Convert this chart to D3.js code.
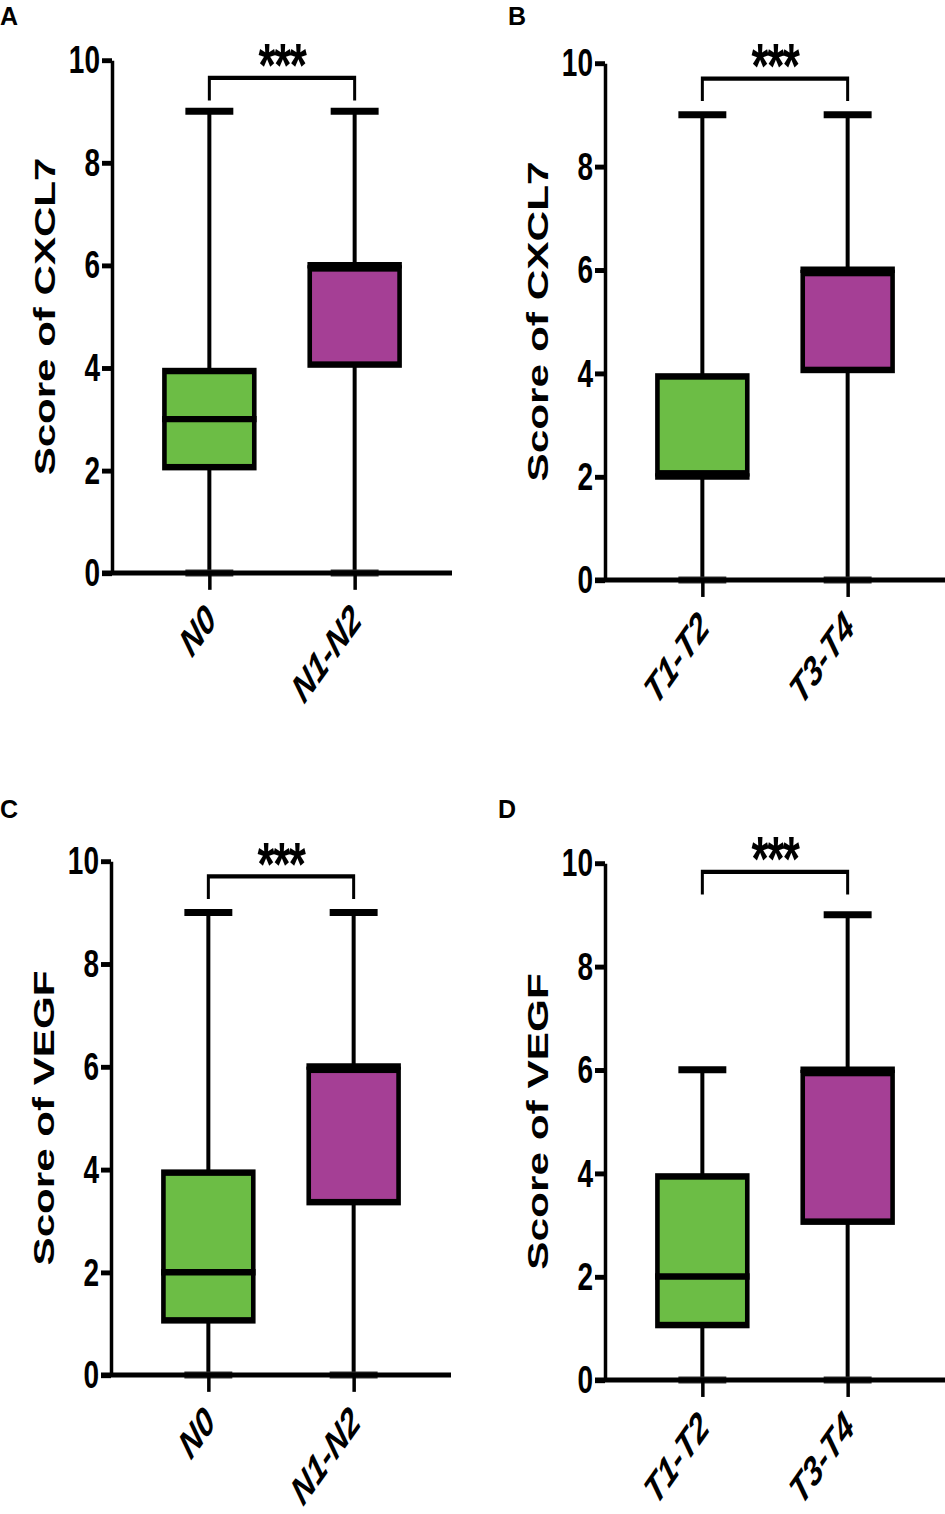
<!DOCTYPE html>
<html>
<head>
<meta charset="utf-8">
<script src="https://cdn.jsdelivr.net/npm/d3@7"></script>
<style>
  body { margin: 0; background: #fff; }
  text { font-family: "Liberation Sans", Arial, sans-serif; font-weight: bold; }
</style>
</head>
<body>
<script>
// panel titles / categories
var panelLetters = ['A', 'B', 'C', 'D'];
var yTitles = ['Score of CXCL7', 'Score of CXCL7', 'Score of VEGF', 'Score of VEGF'];
var groupsN = ['N0', 'N1-N2'];
var groupsT = ['T1-T2', 'T3-T4'];
var panelGroups = [groupsN, groupsT, groupsN, groupsT];
var yTicks = [0, 2, 4, 6, 8, 10];

// box stats: [min, q1, median, q3, max]
var statsA = [[0, 2, 3, 4, 9], [0, 4, 6, 6, 9]];
var statsB = [[0, 2, 2, 4, 9], [0, 4, 6, 6, 9]];
var statsC = [[0, 1, 2, 4, 9], [0, 3.3, 6, 6, 9]];
var statsD = [[0, 1, 2, 4, 6], [0, 3, 6, 6, 9]];
var panelStats = [statsA, statsB, statsC, statsD];

// significance marks and the level (in score units) of the bracket
var sigLabels = ['***', '***', '***', '***'];
var sigLevel = [9.65, 9.7, 9.7, 9.83];

var boxColors = ['#6cbd45', '#a53f95'];

// where each panel sits on the page (y axis x, top = 10, bottom = 0)
var layout = [
  {ox: 112, top: 60, bottom: 573, lx: 0, ly: 25},
  {ox: 605, top: 63, bottom: 580, lx: 508, ly: 25},
  {ox: 111, top: 861, bottom: 1375, lx: 0, ly: 818},
  {ox: 605, top: 863, bottom: 1380, lx: 498, ly: 818}
];

var H = 366; // unstretched plot height, the picture is stretched vertically
var W = 340;

var svg = d3.select('body').append('svg')
  .attr('width', 945)
  .attr('height', 1514);

function drawPanel(i) {
  var L = layout[i];
  var k = (L.bottom - L.top) / H;
  var stats = panelStats[i];
  var cats = panelGroups[i];

  svg.append('text')
    .attr('x', L.lx)
    .attr('y', L.ly)
    .attr('font-size', 25)
    .text(panelLetters[i]);

  var g = svg.append('g')
    .attr('transform', 'translate(' + L.ox + ',' + L.top + ') scale(1,' + k + ')');

  var y = d3.scaleLinear().domain([0, 10]).range([H, 0]);
  var x = d3.scalePoint().domain(cats).range([0, W]).padding(0.67);
  var boxW = x.step() * 0.65;
  var capW = x.step() * 0.33;
  var boxSw = 4.6;

  var boxes = g.selectAll('.box').data(stats).enter().append('g')
    .attr('class', 'box')
    .attr('transform', function (d, j) { return 'translate(' + x(cats[j]) + ',0)'; });

  // whisker
  boxes.append('line')
    .attr('x1', 0).attr('x2', 0)
    .attr('y1', function (d) { return y(d[0]); })
    .attr('y2', function (d) { return y(d[4]); })
    .attr('stroke', '#000')
    .attr('stroke-width', 4);
  // caps
  boxes.selectAll('.cap').data(function (d) { return [d[0], d[4]]; }).enter().append('line')
    .attr('class', 'cap')
    .attr('x1', -capW / 2).attr('x2', capW / 2)
    .attr('y1', function (v) { return y(v); })
    .attr('y2', function (v) { return y(v); })
    .attr('stroke', function (v) { return v === 0 ? '#333' : '#000'; })
    .attr('stroke-width', 5);
  // box, border drawn inside the quartiles
  boxes.append('rect')
    .attr('x', -boxW / 2 + boxSw / 2)
    .attr('width', boxW - boxSw)
    .attr('y', function (d) { return y(d[3]) + boxSw / 2; })
    .attr('height', function (d) { return y(d[1]) - y(d[3]) - boxSw; })
    .attr('fill', function (d, j) { return boxColors[j]; })
    .attr('stroke', '#000')
    .attr('stroke-width', boxSw);
  // median
  boxes.append('line')
    .attr('x1', -boxW / 2).attr('x2', boxW / 2)
    .attr('y1', function (d) { return y(d[2]); })
    .attr('y2', function (d) { return y(d[2]); })
    .attr('stroke', '#000')
    .attr('stroke-width', 4.6);

  // y axis
  var yAxis = g.append('g')
    .call(d3.axisLeft(y).tickValues(yTicks).tickFormat(d3.format('d')).tickSize(10).tickSizeOuter(0).tickPadding(2));
  yAxis.select('.domain').attr('stroke-width', 3.5);
  yAxis.selectAll('.tick line').attr('stroke-width', 3.5);
  yAxis.selectAll('.tick text')
    .attr('font-size', 28)
    .attr('font-family', '"Liberation Sans", Arial, sans-serif')
    .attr('fill', '#000');

  // x axis
  var xAxis = g.append('g')
    .attr('transform', 'translate(0,' + H + ')')
    .call(d3.axisBottom(x).tickSize(12).tickSizeOuter(0));
  xAxis.select('.domain').remove();
  xAxis.append('line')
    .attr('x1', -10).attr('x2', W)
    .attr('y1', 0).attr('y2', 0)
    .attr('stroke', '#000')
    .attr('stroke-width', 3.5);
  xAxis.selectAll('.tick line').attr('stroke-width', 3.5);
  xAxis.selectAll('.tick text')
    .attr('font-size', 29)
    .attr('font-style', 'italic')
    .attr('font-family', '"Liberation Sans", Arial, sans-serif')
    .attr('fill', '#000')
    .attr('text-anchor', 'end')
    .attr('x', 8)
    .attr('y', 35)
    .attr('dy', 0)
    .attr('transform', 'rotate(-45,8,35)');

  // y title
  g.append('text')
    .attr('transform', 'translate(-57,' + (H / 2) + ') rotate(-90)')
    .attr('text-anchor', 'middle')
    .attr('font-size', 30)
    .text(yTitles[i]);

  // significance bracket
  var by = y(sigLevel[i]);
  var drop = 16;
  g.append('path')
    .attr('d', 'M' + x(cats[0]) + ',' + (by + drop) + 'V' + by + 'H' + x(cats[1]) + 'V' + (by + drop))
    .attr('fill', 'none')
    .attr('stroke', '#000')
    .attr('stroke-width', 3);
  g.append('text')
    .attr('x', (x(cats[0]) + x(cats[1])) / 2)
    .attr('y', by + 6)
    .attr('text-anchor', 'middle')
    .attr('font-size', 44)
    .attr('letter-spacing', -1.5)
    .text(sigLabels[i]);
}

for (var i = 0; i < 4; i++) {
  drawPanel(i);
}
</script>
</body>
</html>
